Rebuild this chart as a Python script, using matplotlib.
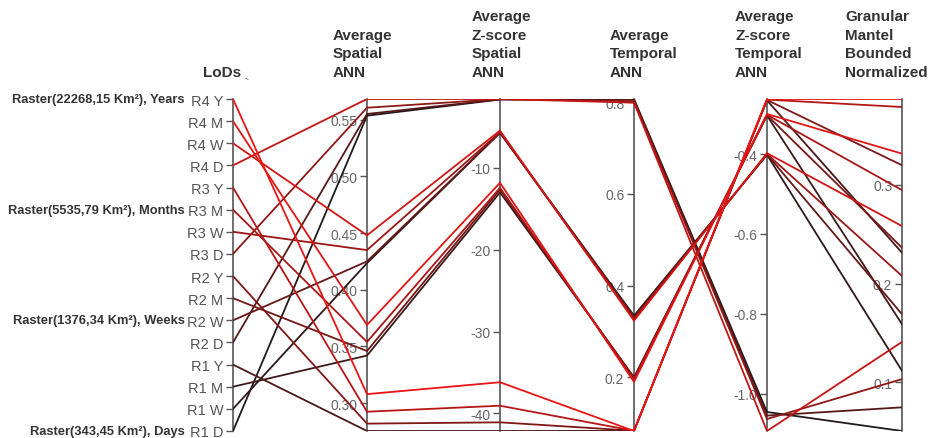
#!/usr/bin/env python3

import numpy as np
import matplotlib
matplotlib.use("Agg")
import matplotlib.pyplot as plt

plt.rcParams['font.family'] = ['Liberation Sans', 'DejaVu Sans']

# Niveis de detalhe (de cima para baixo no eixo)
lods = ["R4 Y", "R4 M", "R4 W", "R4 D",
        "R3 Y", "R3 M", "R3 W", "R3 D",
        "R2 Y", "R2 M", "R2 W", "R2 D",
        "R1 Y", "R1 M", "R1 W", "R1 D"]

# Valores de cada eixo, na mesma ordem dos LoDs
spatial_ann = [0.308, 0.369, 0.448, 0.5682,
               0.2925, 0.354, 0.435, 0.5605,
               0.282, 0.346, 0.425, 0.555,
               0.2755, 0.342, 0.4235, 0.5535]
zscore_spatial = [-36.2, -11.83, -5.45, -1.585,
                  -39.07, -12.44, -5.63, -1.6,
                  -41.1, -12.65, -5.7, -1.62,
                  -42.16, -13.0, -5.73, -1.65]
temporal_ann = [0.0828, 0.1898, 0.3235, 0.799,
                0.0832, 0.1963, 0.327, 0.802,
                0.0834, 0.1985, 0.3315, 0.805,
                0.083, 0.200, 0.3344, 0.807]
zscore_temporal = [-0.2625, -0.300, -0.398, -1.0925,
                   -0.264, -0.302, -0.400, -1.0625,
                   -0.265, -0.303, -0.401, -1.054,
                   -0.266, -0.304, -0.402, -1.045]
granular = [0.3864, 0.3312, 0.258, 0.141,
            0.3783, 0.2943, 0.2076, 0.1034,
            0.3195, 0.2362, 0.169, 0.0749,
            0.2311, 0.1589, 0.1118, 0.051]

titles = ["LoDs", "Average\nSpatial\nANN", "Average\nZ-score\nSpatial\nANN",
          "Average\nTemporal\nANN", "Average\nZ-score\nTemporal\nANN",
          "Granular\nMantel\nBounded\nNormalized"]

raster_labels = ["Raster(22268,15 Km²), Years", "Raster(5535,79 Km²), Months",
                 "Raster(1376,34 Km²), Weeks", "Raster(343,45 Km²), Days"]
raster_lods = ["R4 Y", "R3 M", "R2 W", "R1 D"]

ticks = [None,
         [0.30, 0.35, 0.40, 0.45, 0.50, 0.55],
         [-40, -30, -20, -10],
         [0.2, 0.4, 0.6, 0.8],
         [-1.0, -0.8, -0.6, -0.4],
         [0.1, 0.2, 0.3]]
tick_fmt = [None, "{:.2f}", "{:.0f}", "{:.1f}", "{:.1f}", "{:.1f}"]


def main():
    W, H = 935, 439
    fig = plt.figure(figsize=(W / 100, H / 100), dpi=100)

    # posicao dos eixos em pixels
    axis_px = [233, 367, 500, 634, 767, 902]
    top_px, bot_px = 100, 432
    bottom = 1 - bot_px / H
    height = (bot_px - top_px) / H

    lod_pos = [len(lods) - 1 - i for i in range(len(lods))]
    columns = [lod_pos, spatial_ann, zscore_spatial, temporal_ann,
               zscore_temporal, granular]
    limits = [(min(c), max(c)) for c in columns]

    # eixos verticais com escala propria
    for k, xp in enumerate(axis_px):
        a = fig.add_axes([xp / W, bottom, 1e-6, height])
        a.set_ylim(*limits[k])
        a.patch.set_visible(False)
        for s in ['top', 'right', 'bottom']:
            a.spines[s].set_visible(False)
        a.spines['left'].set_color('#555555')
        a.spines['left'].set_linewidth(1.2)
        a.set_xticks([])
        if k == 0:
            a.set_yticks(lod_pos)
            a.set_yticklabels(lods)
            a.tick_params(axis='y', length=5, width=1, color='#555555',
                          labelcolor='#555555', labelsize=10.5, pad=2)
        else:
            a.set_yticks(ticks[k])
            a.set_yticklabels([tick_fmt[k].format(t) for t in ticks[k]])
            a.tick_params(axis='y', length=5, width=1, color='#555555',
                          labelcolor='#666666', labelsize=10, pad=2)

    # eixo principal para as linhas (coordenadas normalizadas)
    ax = fig.add_axes([axis_px[0] / W, bottom,
                       (axis_px[-1] - axis_px[0]) / W, height])
    ax.set_zorder(5)
    ax.patch.set_visible(False)
    ax.axis('off')
    xs = [(xp - axis_px[0]) / (axis_px[-1] - axis_px[0]) for xp in axis_px]
    ax.set_xlim(0, 1)
    ax.set_ylim(0, 1)

    red = np.array([0.93, 0.08, 0.08])
    dark = np.array([0.13, 0.10, 0.10])
    n = len(lods)
    for i in reversed(range(n)):
        t = i / (n - 1)
        color = red * (1 - t) + dark * t
        ys = []
        for k, col in enumerate(columns):
            lo, hi = limits[k]
            ys.append((col[i] - lo) / (hi - lo))
        ax.plot(xs, ys, color=color, lw=1.3, solid_joinstyle='miter')

    # titulos
    title_x = [203, 333, 472, 610, 735, 845]
    for k, tt in enumerate(titles):
        fig.text(title_x[k] / W, 1 - 80 / H, tt, ha='left', va='bottom',
                 fontsize=11, fontweight='bold', color='#333333',
                 linespacing=1.43)
    fig.text(245 / W, 1 - 82 / H, "-.", fontsize=6, color='#333333',
             ha='left', va='bottom')

    # rotulos das resolucoes raster
    for lab, lod in zip(raster_labels, raster_lods):
        yp = lod_pos[lods.index(lod)] / (n - 1)
        fig.text(185 / W, bottom + yp * height, lab, ha='right', va='center',
                 fontsize=9.3, fontweight='bold', color='#333333')

    plt.savefig('out.png', dpi=100)


if __name__ == "__main__":
    main()
